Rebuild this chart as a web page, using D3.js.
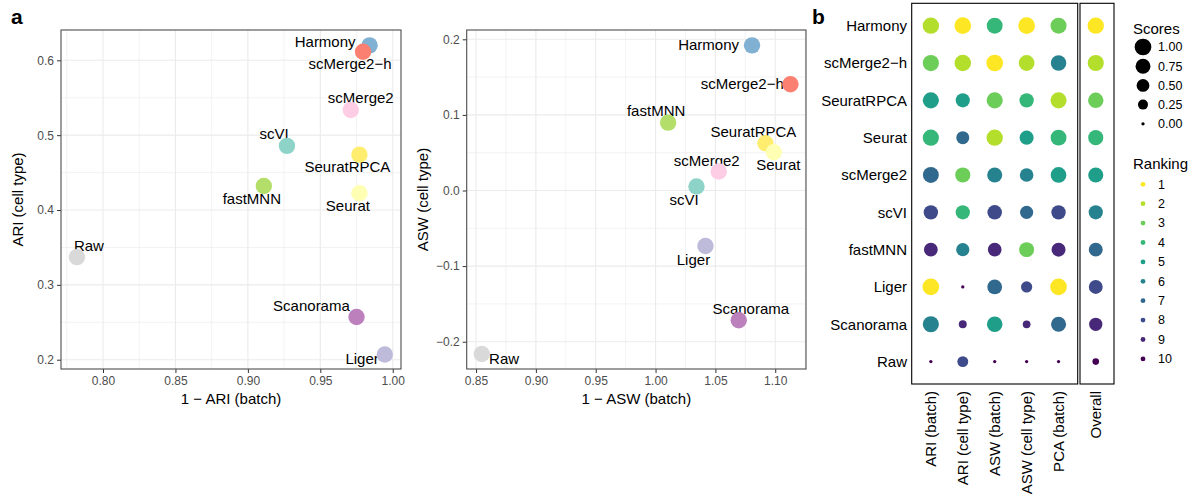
<!DOCTYPE html>
<html>
<head>
<meta charset="utf-8">
<script src="https://d3js.org/d3.v7.min.js"></script>
<style>
  body { margin: 0; background: #fff; }
  svg { font-family: "Liberation Sans", Arial, sans-serif; }
  .grid line { stroke: #ebebeb; }
  .tick text { fill: #4d4d4d; font-size: 12px; }
  .tick line { stroke: #333; }
  .domain { display: none; }
</style>
</head>
<body>
<svg width="1196" height="495"></svg>
<script>
// methods, in the order of the dot plot rows
const methods = ["Harmony", "scMerge2−h", "SeuratRPCA", "Seurat", "scMerge2", "scVI", "fastMNN", "Liger", "Scanorama", "Raw"];
const methodColors = ["#80B1D3", "#FB8072", "#FFED6F", "#FFFFB3", "#FCCDE5", "#8DD3C7", "#B3DE69", "#BEBADA", "#BC80BD", "#D9D9D9"];

// panel a, left: 1 - ARI (batch) vs ARI (cell type)
const ariBatch = [0.984, 0.9795, 0.977, 0.977, 0.971, 0.927, 0.911, 0.9945, 0.975, 0.782];
const ariCell = [0.620, 0.6115, 0.474, 0.4223, 0.5336, 0.4857, 0.432, 0.207, 0.257, 0.337];
// panel a, right: 1 - ASW (batch) vs ASW (cell type)
const aswBatch = [1.0806, 1.1127, 1.0918, 1.0988, 1.0528, 1.0342, 1.0105, 1.0417, 1.0695, 0.8548];
const aswCell = [0.192, 0.1405, 0.0626, 0.0506, 0.0251, 0.0053, 0.0898, -0.0735, -0.1717, -0.2163];

const xTicksLeft = [0.80, 0.85, 0.90, 0.95, 1.00];
const yTicksLeft = [0.2, 0.3, 0.4, 0.5, 0.6];
const xTicksRight = [0.85, 0.90, 0.95, 1.00, 1.05, 1.10];
const yTicksRight = [-0.2, -0.1, 0.0, 0.1, 0.2];

// panel b
const metrics = ["ARI (batch)", "ARI (cell type)", "ASW (batch)", "ASW (cell type)", "PCA (batch)"];
const scoreARIBatch = [0.95, 0.93, 0.92, 0.92, 0.89, 0.68, 0.61, 1.00, 0.91, 0.00];
const scoreARICell = [1.00, 0.98, 0.65, 0.52, 0.79, 0.67, 0.55, 0.00, 0.12, 0.32];
const scoreASWBatch = [0.88, 1.00, 0.92, 0.95, 0.77, 0.70, 0.60, 0.73, 0.83, 0.00];
const scoreASWCell = [1.00, 0.87, 0.68, 0.65, 0.59, 0.54, 0.75, 0.35, 0.11, 0.00];
const scorePCABatch = [0.90, 0.83, 0.92, 0.88, 0.86, 0.68, 0.64, 1.00, 0.77, 0.00];
const scoreOverall = [0.95, 0.92, 0.82, 0.78, 0.78, 0.66, 0.63, 0.62, 0.55, 0.06];
const rankARIBatch = [2, 3, 5, 4, 7, 8, 9, 1, 6, 10];
const rankARICell = [1, 2, 5, 7, 3, 4, 6, 10, 9, 8];
const rankASWBatch = [4, 1, 3, 2, 6, 8, 9, 7, 5, 10];
const rankASWCell = [1, 2, 4, 5, 6, 7, 3, 8, 9, 10];
const rankPCABatch = [3, 6, 2, 4, 5, 8, 9, 1, 7, 10];
const rankOverall = [1, 2, 3, 4, 5, 6, 7, 8, 9, 10];
const scoreLegend = [1.00, 0.75, 0.50, 0.25, 0.00];
const rankLegend = [1, 2, 3, 4, 5, 6, 7, 8, 9, 10];

const svg = d3.select("svg");

// label offsets (px) from each point, same order as methods
const labLeft = [
  [-14, -3, "end"], [-13, 12.5, "middle"], [-12, 12, "middle"], [-11.5, 13, "middle"], [10, -12, "middle"],
  [-13, -12, "middle"], [-12, 13, "middle"], [-6, 4.7, "end"], [-6.7, -10.6, "end"], [12, -11.6, "middle"]];
const labRight = [
  [-13, 0, "end"], [-6.7, 0, "end"], [-12, -11, "middle"], [4.5, 12.7, "middle"], [-12, -11, "middle"],
  [-12.4, 13.3, "middle"], [-12, -11.7, "middle"], [-12, 14, "middle"], [12, -11.3, "middle"], [22.3, 5.3, "middle"]];

function scatter(o) {
  const x = d3.scaleLinear().domain(o.xd).range([o.x0, o.x1]);
  const y = d3.scaleLinear().domain(o.yd).range([o.y1, o.y0]);
  const g = svg.append("g");

  const minorX = o.xt.map(t => t - o.xs / 2).concat([o.xt[o.xt.length - 1] + o.xs / 2])
    .filter(v => v >= o.xd[0] && v <= o.xd[1] + 1e-9);
  const minorY = o.yt.map(t => t - o.ys / 2).concat([o.yt[o.yt.length - 1] + o.ys / 2])
    .filter(v => v >= o.yd[0] && v <= o.yd[1]);

  const grid = g.append("g").attr("class", "grid");
  grid.selectAll(".mx").data(minorX).join("line")
    .attr("x1", d => x(d)).attr("x2", d => x(d)).attr("y1", o.y0).attr("y2", o.y1).attr("stroke-width", 0.6);
  grid.selectAll(".my").data(minorY).join("line")
    .attr("y1", d => y(d)).attr("y2", d => y(d)).attr("x1", o.x0).attr("x2", o.x1).attr("stroke-width", 0.6);
  grid.selectAll(".Mx").data(o.xt).join("line")
    .attr("x1", d => x(d)).attr("x2", d => x(d)).attr("y1", o.y0).attr("y2", o.y1).attr("stroke-width", 1.1);
  grid.selectAll(".My").data(o.yt).join("line")
    .attr("y1", d => y(d)).attr("y2", d => y(d)).attr("x1", o.x0).attr("x2", o.x1).attr("stroke-width", 1.1);

  g.append("g").attr("transform", `translate(0,${o.y1})`)
    .call(d3.axisBottom(x).tickValues(o.xt).tickFormat(d3.format(".2f")).tickSize(4).tickPadding(3));
  g.append("g").attr("transform", `translate(${o.x0},0)`)
    .call(d3.axisLeft(y).tickValues(o.yt).tickFormat(d3.format(".1f")).tickSize(4).tickPadding(3));

  g.append("rect").attr("x", o.x0).attr("y", o.y0)
    .attr("width", o.x1 - o.x0).attr("height", o.y1 - o.y0)
    .attr("fill", "none").attr("stroke", "#4d4d4d").attr("stroke-width", 1.1);

  g.selectAll(".lab").data(methods).join("text")
    .attr("x", (d, i) => x(o.xv[i]) + o.lab[i][0])
    .attr("y", (d, i) => y(o.yv[i]) + o.lab[i][1] + 5)
    .attr("text-anchor", (d, i) => o.lab[i][2])
    .style("font-size", "15px").attr("fill", "#000")
    .text(d => d);

  g.selectAll(".pt").data(methods).join("circle")
    .attr("cx", (d, i) => x(o.xv[i])).attr("cy", (d, i) => y(o.yv[i]))
    .attr("r", 8.2).attr("fill", (d, i) => methodColors[i]);

  g.append("text").attr("x", (o.x0 + o.x1) / 2).attr("y", 404)
    .attr("text-anchor", "middle").style("font-size", "15px").text(o.xlab);
  g.append("text").attr("transform", `translate(${o.ylx},${(o.y0 + o.y1) / 2}) rotate(-90)`)
    .attr("dy", "0.35em").attr("text-anchor", "middle").style("font-size", "15px").text(o.ylab);
}

scatter({ x0: 61, x1: 401, y0: 30, y1: 369, xd: [0.771, 1.0057], yd: [0.1876, 0.6405],
  xt: xTicksLeft, yt: yTicksLeft, xs: 0.05, ys: 0.1, xv: ariBatch, yv: ariCell, lab: labLeft,
  xlab: "1 − ARI (batch)", ylab: "ARI (cell type)", ylx: 18 });
scatter({ x0: 466.7, x1: 806, y0: 30, y1: 369, xd: [0.8422, 1.1257], yd: [-0.2361, 0.2123],
  xt: xTicksRight, yt: yTicksRight, xs: 0.05, ys: 0.1, xv: aswBatch, yv: aswCell, lab: labRight,
  xlab: "1 − ASW (batch)", ylab: "ASW (cell type)", ylx: 423 });

svg.append("text").attr("x", 11).attr("y", 24).style("font-size", "21px").style("font-weight", "bold").text("a");
svg.append("text").attr("x", 812).attr("y", 24).style("font-size", "21px").style("font-weight", "bold").text("b");

// panel b: dot plot
const scoreCols = [scoreARIBatch, scoreARICell, scoreASWBatch, scoreASWCell, scorePCABatch];
const rankCols = [rankARIBatch, rankARICell, rankASWBatch, rankASWCell, rankPCABatch];
const colX = d3.scalePoint().domain(metrics).range([911.7, 1077.7]).padding(0.6);
const ovX = d3.scalePoint().domain(["Overall"]).range([1079.5, 1112]).padding(0.5);
const rowY = d3.scalePoint().domain(methods).range([3.3, 384]).padding(0.6);
const size = d3.scaleSqrt().domain([0, 1]).range([1.65, 8.35]);
const rankColor = d3.scaleOrdinal().domain(rankLegend)
  .range(["#FDE725", "#B4DE2C", "#6DCD59", "#35B779", "#1F9E89", "#26828E", "#31688E", "#3E4A89", "#482878", "#440154"]);

const b = svg.append("g");
b.append("rect").attr("x", 911.7).attr("y", 3.3).attr("width", 1077.7 - 911.7).attr("height", 384 - 3.3)
  .attr("fill", "none").attr("stroke", "#000").attr("stroke-width", 1.1);
b.append("rect").attr("x", 1080).attr("y", 3.3).attr("width", 1114 - 1080).attr("height", 384 - 3.3)
  .attr("fill", "none").attr("stroke", "#000").attr("stroke-width", 1.1);

const cells = [];
metrics.forEach((m, j) => methods.forEach((meth, i) =>
  cells.push({ x: colX(m), y: rowY(meth), s: scoreCols[j][i], r: rankCols[j][i] })));
methods.forEach((meth, i) =>
  cells.push({ x: ovX("Overall"), y: rowY(meth), s: scoreOverall[i], r: rankOverall[i] }));

b.selectAll(".cell").data(cells).join("circle")
  .attr("cx", d => d.x).attr("cy", d => d.y).attr("r", d => size(d.s))
  .attr("fill", d => rankColor(d.r));

b.selectAll(".rowlab").data(methods).join("text")
  .attr("x", 907).attr("y", d => rowY(d)).attr("dy", "0.35em")
  .attr("text-anchor", "end").style("font-size", "15px").text(d => d);

b.selectAll(".collab").data(metrics.concat(["Overall"])).join("text")
  .attr("transform", d => `translate(${d === "Overall" ? ovX(d) : colX(d)},391) rotate(-90)`)
  .attr("dy", "0.35em").attr("text-anchor", "end").style("font-size", "15px").text(d => d);

// legends
const lg = svg.append("g");
lg.append("text").attr("x", 1133).attr("y", 34).style("font-size", "15px").text("Scores");
lg.selectAll(".sz").data(scoreLegend).join("circle")
  .attr("cx", 1143).attr("cy", (d, i) => 47 + i * 19.2).attr("r", d => size(d)).attr("fill", "#000");
lg.selectAll(".szl").data(scoreLegend).join("text")
  .attr("x", 1158).attr("y", (d, i) => 47 + i * 19.2).attr("dy", "0.35em")
  .style("font-size", "12.5px").text(d => d3.format(".2f")(d));

lg.append("text").attr("x", 1133).attr("y", 168.5).style("font-size", "15px").text("Ranking");
lg.selectAll(".rk").data(rankLegend).join("circle")
  .attr("cx", 1143).attr("cy", (d, i) => 184.3 + i * 19.4).attr("r", 2.4).attr("fill", d => rankColor(d));
lg.selectAll(".rkl").data(rankLegend).join("text")
  .attr("x", 1158).attr("y", (d, i) => 184.3 + i * 19.4).attr("dy", "0.35em")
  .style("font-size", "12.5px").text(d => d);
</script>
</body>
</html>
